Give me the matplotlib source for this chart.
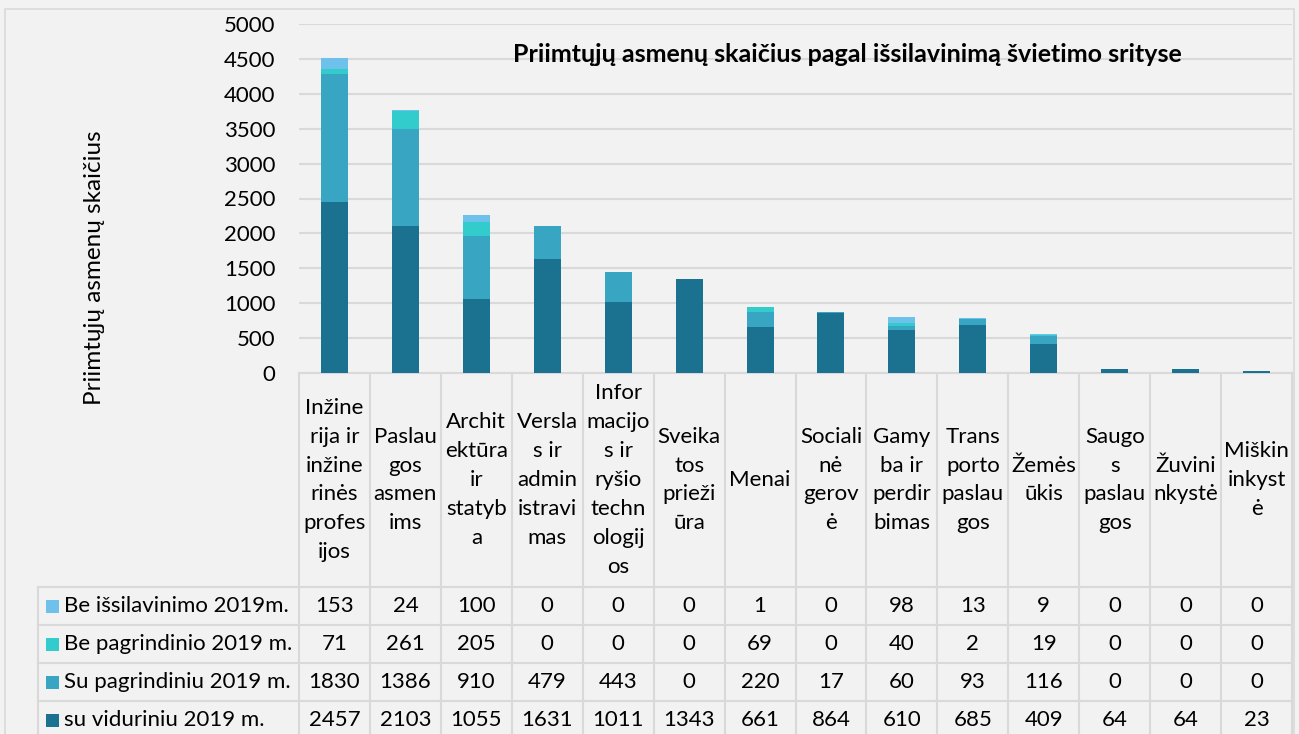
import matplotlib
matplotlib.use("Agg")
import matplotlib.pyplot as plt
from matplotlib.patches import Rectangle
import numpy as np

# categories as wrapped in the original chart table header
categories = [
    "Inžine\nrija ir\ninžine\nrinės\nprofes\nijos",
    "Paslau\ngos\nasmen\nims",
    "Archit\nektūra\nir\nstatyb\na",
    "Versla\ns ir\nadmin\nistravi\nmas",
    "Infor\nmacijo\ns ir\nryšio\ntechn\nologij\nos",
    "Sveika\ntos\nprieži\nūra",
    "Menai",
    "Sociali\nnė\ngerov\nė",
    "Gamy\nba ir\nperdir\nbimas",
    "Trans\nporto\npaslau\ngos",
    "Žemės\nūkis",
    "Saugo\ns\npaslau\ngos",
    "Žuvini\nnkystė",
    "Miškin\ninkyst\nė",
]

be_issilavinimo = [153, 24, 100, 0, 0, 0, 1, 0, 98, 13, 9, 0, 0, 0]
be_pagrindinio = [71, 261, 205, 0, 0, 0, 69, 0, 40, 2, 19, 0, 0, 0]
su_pagrindiniu = [1830, 1386, 910, 479, 443, 0, 220, 17, 60, 93, 116, 0, 0, 0]
su_viduriniu = [2457, 2103, 1055, 1631, 1011, 1343, 661, 864, 610, 685, 409, 64, 64, 23]

series_names = ["Be išsilavinimo 2019m.", "Be pagrindinio 2019 m.",
                "Su pagrindiniu 2019 m.", "su viduriniu 2019 m."]
series_colors = ["#6dc1ea", "#33cccc", "#38a6c3", "#1a7290"]

y_ticks = [0, 500, 1000, 1500, 2000, 2500, 3000, 3500, 4000, 4500, 5000]

title = "Priimtųjų asmenų skaičius pagal išsilavinimą švietimo srityse"
y_label = "Priimtųjų asmenų skaičius"

plt.rcParams['font.family'] = ['Lato', 'DejaVu Sans']
BG = "#f2f2f2"
GRID = "#d9d9d9"
W, H = 1299, 734
FS = 16

fig = plt.figure(figsize=(W / 100, H / 100), dpi=100, facecolor=BG)

# outer chart border
fig.patches.append(Rectangle((5 / W, -0.02), 1289 / W, 1 - 9 / H + 0.02,
                             transform=fig.transFigure, fill=False,
                             edgecolor=GRID, linewidth=1.2))

left, right = 299, 1292
top, zero = 24, 373
ax = fig.add_axes([left / W, 1 - zero / H, (right - left) / W, (zero - top) / H])
ax.set_facecolor(BG)

x = np.arange(len(categories))
stack = [su_viduriniu, su_pagrindiniu, be_pagrindinio, be_issilavinimo]
stack_colors = series_colors[::-1]
bottom = np.zeros(len(categories))
for vals, col in zip(stack, stack_colors):
    ax.bar(x, vals, bottom=bottom, width=0.38, color=col, zorder=3)
    bottom += np.array(vals)

ax.set_xlim(-0.5, len(categories) - 0.5)
ax.set_ylim(0, 5000)
ax.set_yticks(y_ticks)
ax.set_yticklabels([str(t) for t in y_ticks], fontsize=FS, color="#000000")
ax.tick_params(axis='y', length=0, pad=17)
ax.set_xticks([])
ax.grid(axis='y', color=GRID, linewidth=1.5, zorder=0)
for s in ["top", "right", "left"]:
    ax.spines[s].set_visible(False)
ax.spines["bottom"].set_color(GRID)
ax.spines["bottom"].set_linewidth(1.5)

ax.text(548 / (right - left), 1 - (55 - top) / (zero - top), title,
        transform=ax.transAxes, ha='center', va='center',
        fontsize=18, fontweight='bold')

fig.text(95 / W, 1 - 268 / H, y_label, rotation=90, ha='center', va='center',
         fontsize=17.5)

# data table below the plot
tab = fig.add_axes([left / W, 0, (right - left) / W, (H - zero) / H])
tab.set_facecolor(BG)
tab.set_xlim(-0.5, len(categories) - 0.5)
tab.set_ylim(H - zero, 0)
tab.axis('off')

header_h = 214
row_h = 38
row_label_x = -4.18
n_rows = 4
table_bottom = header_h + row_h * n_rows + 10

for i in range(len(categories) + 1):
    tab.plot([i - 0.5, i - 0.5], [0, table_bottom], color=GRID, lw=1.5,
             clip_on=False)
tab.plot([row_label_x, row_label_x], [header_h, table_bottom], color=GRID,
         lw=1.5, clip_on=False)
for r in range(n_rows + 1):
    yy = header_h + r * row_h
    tab.plot([row_label_x, len(categories) - 0.5], [yy, yy], color=GRID,
             lw=1.5, clip_on=False)

for i, cat in enumerate(categories):
    tab.text(i, header_h / 2, cat, ha='center', va='center', fontsize=FS,
             linespacing=1.56)

rows = [be_issilavinimo, be_pagrindinio, su_pagrindiniu, su_viduriniu]
for r, (vals, name, col) in enumerate(zip(rows, series_names, series_colors)):
    yc = header_h + r * row_h + row_h / 2
    tab.add_patch(Rectangle((row_label_x + 0.11, yc - 6.5), 0.18, 13,
                            facecolor=col, edgecolor='none', clip_on=False))
    tab.text(row_label_x + 0.37, yc, name, ha='left', va='center',
             fontsize=FS, clip_on=False)
    for i, v in enumerate(vals):
        tab.text(i, yc, str(v), ha='center', va='center', fontsize=FS)

fig.savefig("out.png", dpi=100, facecolor=BG)
